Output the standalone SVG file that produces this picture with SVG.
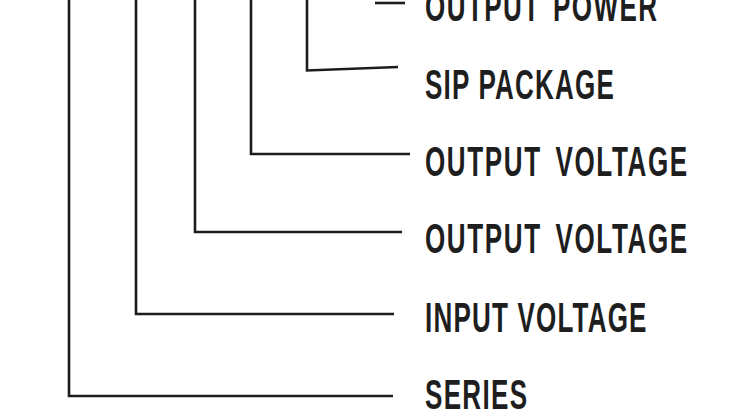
<svg xmlns="http://www.w3.org/2000/svg" width="746" height="420" viewBox="0 0 746 420">
<style>
.c{fill:none;stroke:#1c1c1c;stroke-width:2.6;stroke-linejoin:miter;stroke-linecap:butt}
.t{font-family:"Liberation Sans",Arial,sans-serif;font-weight:bold;font-size:42px;fill:#1e1e1e}
</style>
<rect width="746" height="420" fill="#ffffff"/>
<g id="connectors">
<path class="c" d="M69,0 V396 H393"/>
<path class="c" d="M136,0 V314 H394"/>
<path class="c" d="M195,0 V232 H402"/>
<path class="c" d="M251,0 V154 H410"/>
<path class="c" d="M307,0 V70.5 L398,67"/>
<path class="c" d="M375,3 H405"/>
</g>
<g id="output-power" transform="translate(425,21) scale(0.62,1)"><text class="t" x="0" y="0" letter-spacing="2.3" word-spacing="6">OUTPUT POWER</text></g>
<g id="sip-package" transform="translate(425,99) scale(0.62,1)"><text class="t" x="0" y="0" letter-spacing="1.9">SIP PACKAGE</text></g>
<g id="output-voltage-1" transform="translate(425,176) scale(0.62,1)"><text class="t" x="0" y="0" letter-spacing="2.6" word-spacing="8">OUTPUT VOLTAGE</text></g>
<g id="output-voltage-2" transform="translate(425,253) scale(0.62,1)"><text class="t" x="0" y="0" letter-spacing="2.6" word-spacing="8">OUTPUT VOLTAGE</text></g>
<g id="input-voltage" transform="translate(425,332) scale(0.62,1)"><text class="t" x="0" y="0" letter-spacing="1.9">INPUT VOLTAGE</text></g>
<g id="series" transform="translate(425,409) scale(0.62,1)"><text class="t" x="0" y="0" letter-spacing="2.1">SERIES</text></g>
</svg>
